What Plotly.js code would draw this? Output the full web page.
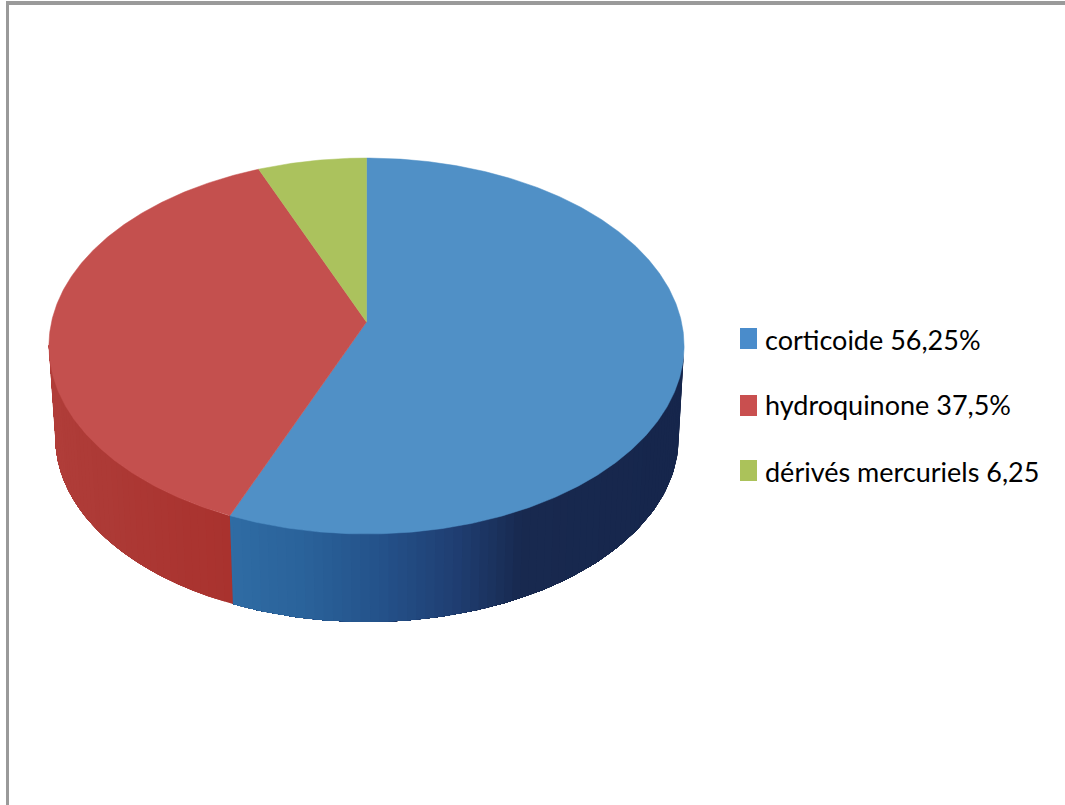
<!DOCTYPE html>
<html>
<head>
<meta charset="utf-8">
<script src="https://cdn.plot.ly/plotly-3.0.1.min.js"></script>
<style>html,body{margin:0;padding:0;background:#fff}#chart{width:1065px;height:805px}</style>
</head>
<body>
<div id="chart"></div>
<script>
// Composition of the products, in percent, clockwise from twelve o'clock
const categories = ['corticoide', 'hydroquinone', 'dérivés mercuriels'];
const shares = [56.25, 37.5, 6.25];
const legendLabels = ['corticoide 56,25%', 'hydroquinone 37,5%', 'dérivés mercuriels 6,25'];

const topColors = ['#5090c6', '#c4504e', '#abc25d'];
const swatchColors = ['#4a8ccb', '#c94f4f', '#abc25a'];
// Wall shading: [angle in degrees, colour], per slice
const wallShades = [
  [[120, '#16264c'], [154, '#18294f'], [165, '#1f3d70'], [178, '#24528a'], [190, '#2a629a'], [202.5, '#2f6ca4']],
  [[202.5, '#a9322e'], [230, '#ad3a36'], [265, '#b23f3b']],
  [[337.5, '#9a9a40'], [360, '#9a9a40']]
];

// Perspective projection of the disc, in the pixel space of the axes
const tilt = 0.1277;
const topDisc = {cx: 366.5, cy: 322, rx: 315, ry: 184.9};
const baseDisc = {cx: 367, cy: 414.2, rx: 309.1, ry: 181.2};
const wallFrom = 97, wallTo = 263, wallStep = 1.5;

function project(disc, deg) {
  const t = deg * Math.PI / 180, u = Math.sin(t), v = Math.cos(t), w = 1 + tilt * v;
  return [disc.cx + disc.rx * u / w, disc.cy - disc.ry * v / w];
}

function arc(disc, from, to, step) {
  const pts = [];
  for (let a = from; a < to; a += step) pts.push(project(disc, a));
  pts.push(project(disc, to));
  return pts;
}

function shade(stops, deg) {
  const hex = c => [1, 3, 5].map(i => parseInt(c.substr(i, 2), 16));
  if (deg <= stops[0][0]) return stops[0][1];
  for (let i = 1; i < stops.length; i++) {
    if (deg <= stops[i][0]) {
      const f = (deg - stops[i - 1][0]) / (stops[i][0] - stops[i - 1][0]);
      const a = hex(stops[i - 1][1]), b = hex(stops[i][1]);
      return 'rgb(' + a.map((c, k) => Math.round(c + (b[k] - c) * f)).join(',') + ')';
    }
  }
  return stops[stops.length - 1][1];
}

const total = shares.reduce((s, v) => s + v, 0);
const traces = [];
const polygon = (pts, color, name, edge) => ({
  type: 'scatter', mode: 'lines', x: pts.map(p => p[0]), y: pts.map(p => p[1]),
  fill: 'toself', fillcolor: color, line: {color: color, width: edge},
  hoverinfo: 'skip', showlegend: false, name: name
});

// Side wall first, so that the top surface covers its upper edge.
// Each band runs to the end of its slice and the next one paints over it, leaving no seams.
let start = 0;
shares.forEach((value, i) => {
  const end = start + value / total * 360;
  const from = Math.max(start, wallFrom), to = Math.min(end, wallTo);
  for (let a = from; a < to; a += wallStep) {
    const pts = arc(topDisc, a, to, wallStep).concat(arc(baseDisc, a, to, wallStep).reverse());
    traces.push(polygon(pts, shade(wallShades[i], a + wallStep / 2), categories[i] + ' (side)', 0));
  }
  start = end;
});

// Top surface of each slice
start = 0;
shares.forEach((value, i) => {
  const end = start + value / total * 360;
  const pts = [[topDisc.cx, topDisc.cy]].concat(arc(topDisc, start, end, 0.5), [[topDisc.cx, topDisc.cy]]);
  traces.push(polygon(pts, topColors[i], categories[i], 0.5));
  start = end;
});

// Legend rows
const legendTop = [328, 395, 460];
const legendMiddle = [339, 404, 471];
const shapes = [
  {type: 'rect', xref: 'paper', yref: 'paper', x0: 6 / 1065, x1: 9 / 1065, y0: 0, y1: 1 - 1 / 805, fillcolor: '#9a9a9a', line: {width: 0}},
  {type: 'rect', xref: 'paper', yref: 'paper', x0: 6 / 1065, x1: 1, y0: 1 - 5 / 805, y1: 1 - 1 / 805, fillcolor: '#9a9a9a', line: {width: 0}}
];
const annotations = [];
legendLabels.forEach((label, i) => {
  shapes.push({type: 'rect', xref: 'x', yref: 'y', x0: 740, x1: 757, y0: legendTop[i], y1: legendTop[i] + 21,
    fillcolor: swatchColors[i], line: {width: 0}});
  annotations.push({xref: 'x', yref: 'y', x: 763, y: legendMiddle[i], xanchor: 'left', yanchor: 'middle',
    text: label, showarrow: false, font: {family: 'Lato, sans-serif', size: 27, color: '#000'}});
});

Plotly.newPlot('chart', traces, {
  width: 1065, height: 805, margin: {l: 0, r: 0, t: 0, b: 0},
  paper_bgcolor: '#fff', plot_bgcolor: '#fff', showlegend: false,
  xaxis: {range: [0, 1065], visible: false, fixedrange: true},
  yaxis: {range: [805, 0], visible: false, fixedrange: true},
  shapes: shapes, annotations: annotations
}, {displayModeBar: false, staticPlot: true});
</script>
</body>
</html>
